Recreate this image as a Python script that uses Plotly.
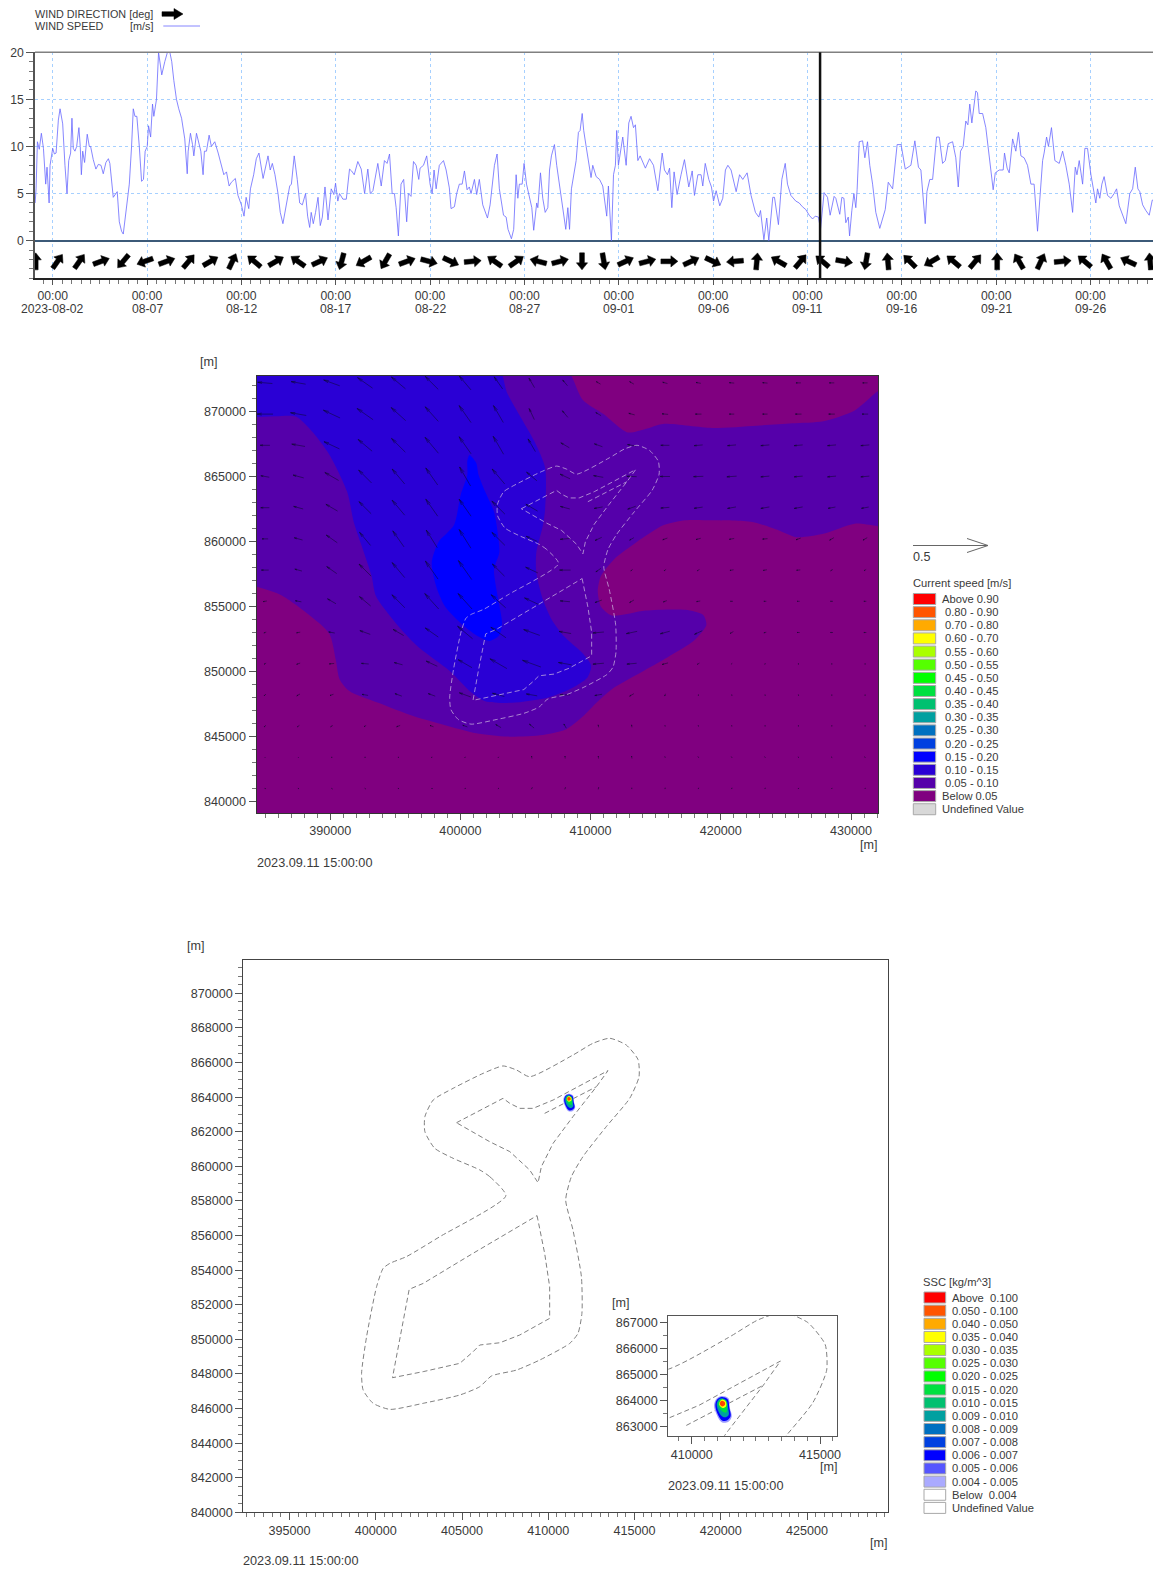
import math
import pandas as pd
import plotly.graph_objects as go

W, H = 1153, 1569
FONT = "Liberation Sans"
TXT = "#3a3a3a"

# ---------- wind series (days after 2023-08-02 00:00, m/s) ----------
wind_day = [
 -0.93,-0.88,-0.81,-0.71,-0.60,-0.49,-0.37,-0.30,-0.19,-0.14,0.0,0.09,0.18,0.30,0.39,0.53,0.65,0.76,0.85,0.95,
 1.02,1.09,1.18,1.27,1.39,1.46,1.52,1.59,1.69,1.83,1.94,2.01,2.15,2.29,2.42,2.56,2.68,2.82,2.95,3.03,
 3.21,3.42,3.53,3.65,3.74,3.88,4.06,4.18,4.27,4.36,4.46,4.59,4.71,4.81,4.90,5.01,5.08,5.19,5.29,5.36,
 5.50,5.61,5.68,5.78,5.94,6.08,6.21,6.31,6.42,6.56,6.68,6.83,7.00,7.13,7.18,7.30,7.41,7.48,7.62,7.74,
 7.85,7.97,8.04,8.15,8.29,8.41,8.59,8.77,8.94,9.07,9.21,9.35,9.47,9.68,9.82,10.0,10.14,10.25,10.39,10.48,
 10.65,10.79,10.93,11.15,11.41,11.53,11.64,11.78,11.94,12.06,12.20,12.38,12.56,12.65,12.80,12.96,13.09,13.23,13.40,13.51,
 13.62,13.70,13.81,13.93,14.06,14.18,14.29,14.43,14.59,14.76,14.90,14.99,15.11,15.20,15.38,15.56,15.73,15.84,15.98,16.17,
 16.35,16.53,16.70,16.83,16.97,17.23,17.41,17.58,17.72,17.85,17.99,18.11,18.20,18.32,
 18.46,18.60,18.76,18.85,18.99,19.12,19.26,19.40,19.47,19.65,19.82,20.0,20.11,20.21,20.32,20.49,20.71,20.85,21.02,21.11,
 21.29,21.41,21.55,21.70,21.82,21.96,22.08,22.17,22.35,22.47,22.61,22.79,23.04,23.18,23.41,23.55,23.67,23.89,24.03,24.13,
 24.31,24.43,24.56,24.65,24.73,24.88,24.98,25.11,25.27,25.39,25.49,25.65,25.71,25.85,25.97,26.10,26.24,26.33,26.43,26.59,
 26.71,26.86,27.03,27.19,27.30,27.39,27.49,27.60,27.74,27.86,27.95,28.06,28.14,28.27,28.45,28.53,28.62,28.71,28.80,28.98,
 29.15,29.36,29.45,29.61,29.72,29.82,29.89,29.98,30.11,30.21,30.39,30.53,30.65,30.78,30.88,31.01,31.13,31.27,31.41,31.63,
 31.84,32.07,32.30,32.42,32.58,32.69,32.81,32.93,33.09,33.30,33.48,33.71,33.89,34.01,34.19,34.36,34.45,34.58,34.77,34.91,
 35.02,35.16,35.35,35.51,35.65,35.78,35.95,36.22,36.40,36.57,36.80,37.01,37.24,37.42,37.51,37.69,37.84,37.95,38.16,38.25,
 38.46,38.64,38.82,
 38.94,39.12,39.38,39.56,39.73,39.91,40.09,40.27,40.41,40.58,40.69,40.88,41.06,41.20,41.41,41.50,41.71,41.82,41.93,42.03,
 42.16,42.23,42.35,42.46,42.56,42.63,42.74,42.92,43.04,43.18,43.30,43.45,43.62,43.83,44.12,44.28,44.51,44.75,44.96,45.18,
 45.48,45.69,45.88,46.01,46.24,46.33,46.48,46.63,46.84,46.98,47.16,47.30,47.46,47.69,47.86,47.99,48.11,48.25,48.39,48.50,
 48.60,48.71,48.92,49.01,49.10,49.28,49.45,49.63,49.74,49.84,49.95,50.16,50.37,50.44,50.58,50.69,50.87,51.04,51.18,51.31,
 51.48,51.66,51.84,52.01,52.19,52.28,52.46,52.54,52.67,52.77,52.93,53.11,53.34,53.52,53.69,53.87,54.05,54.19,54.28,54.40,
 54.58,54.70,54.84,55.02,55.19,55.28,55.37,55.49,55.60,55.72,55.90,56.08,56.25,56.38,56.52,56.87,57.08,57.23,57.37,57.51,
 57.61,57.76,57.93,58.11,58.27,58.31]
wind_speed = [
 4,5.5,10.5,9.7,11.4,9.8,6,7.8,4,8,9.8,9.2,9.3,12.8,14,12.4,8,5,8.5,9.3,
 13,9.8,9.5,10,12,10,7,9.5,8.3,11.3,10,10,8.6,7.6,8.1,8,7.1,8.3,8.7,8.2,
 4.6,5.2,2,1,0.7,3,6,10,14,13.2,13.2,10,6.3,6.5,9.5,10,12.2,11,14.5,13.2,
 15,20,19,17.6,19,20,20,19,17,15,14,13,10.8,7.1,9.5,11.4,10.2,9,11.4,10.5,
 9.5,7,9.5,9.5,11.2,10,10.5,9.3,8,7,7.3,5.8,6.2,6.6,4.8,3.8,2.6,4.6,3.4,5.5,
 7,8.7,9.3,6.6,9,7.5,8.2,7,5,3,1.8,4,5.8,6,9,6.5,4,3.8,5,2.6,
 1.4,3,1.8,3,4.6,1.6,2.5,5.7,2.2,5.5,4.9,6.1,4.2,5,4.4,4.4,7.6,7.4,7,8.4,
 7.6,5,7.6,5,5.3,8.2,5.8,8.5,8.2,9.2,5,5,3.5,0.5,
 6,6.5,2,5,4.7,8.4,8,6.5,7.7,8,9,6,5,7.5,5.5,8,8.5,7.5,5.6,3.4,
 3.6,5,6,6,7.4,5.4,5.7,5,6.5,4.9,6.5,3.8,2.4,3.8,8,9.2,5.5,2.7,2.5,1.2,
 0.2,1.2,7,4.5,6,6,8.2,6,4.5,3.5,1.1,4,3.5,7.2,4.5,3,3.5,7.5,9,10.2,
 8,6,3.5,1.2,3.5,1.2,5.5,6.8,8.5,11.5,11.7,13.5,11.7,10,7.3,6.7,8,7.5,6.8,6.5,
 5.8,2.6,5.8,0,7,8,11.7,8,10,11,8,12.5,13.2,12,12.3,8.5,9,8.3,7.7,8.7,
 8,5.3,9.3,7.5,7,7.7,3.5,7.3,4.9,7,8.6,5.7,7.4,4.8,7,7,5.8,8.2,6.5,5.7,
 4.2,5.3,3.7,4.5,7.5,8,7.5,5.2,7,6.5,7.2,4.8,3,2.5,3.2,0.1,2.4,0,4.6,4.6,
 1.7,6.5,8.2,
 6,4.8,4.2,4,3.6,3.3,2.7,2.3,2.6,2.5,1.2,5.1,4.6,2.7,4.7,4.5,2.8,4.6,4.5,1.9,
 2.5,0.5,3.2,5,3.5,5.4,10.5,10.6,8.8,10.5,8,6,3,1.3,3.3,6.2,5.5,10.2,10.2,7.6,
 8,10.6,7.8,7.5,1.8,5.2,6.5,6.5,11,11,8.2,8.5,10.3,10.5,8.8,5.7,9.5,10,12.7,12.3,
 14.5,12.5,15.9,15.7,13.5,13.5,12,9,7,5.4,7.2,7.5,7.5,9.3,7.7,7.2,10.8,9.5,11.5,9,
 8.8,8,6,6,1,3.2,8.5,9.3,11,10,12,8.5,8.2,9.5,8,6,3,7.8,7,8.5,
 6,9.8,9.8,7,4.8,4,5.5,4.5,6,6.8,4.8,4.5,5,5.5,3.7,1.8,5,5.5,7.8,5.5,
 5.2,3.8,3.2,2.7,4.3,4.3]

# compass bearing each wind arrow points to, left to right
wind_dir = [0,35,35,70,220,250,70,40,60,25,310,60,305,65,195,240,210,
            70,105,115,85,305,55,285,75,180,170,65,75,90,65,115,265,5,300,
            40,310,100,190,355,315,240,310,40,0,330,25,85,310,330,295,355]
wind_dates = ["2023-08-02","08-07","08-12","08-17","08-22","08-27","09-01","09-06","09-11","09-16","09-21","09-26"]

# ---------- current speed contours (km) ----------
band05_x = [383.0,407.6,409.42,410.96,412.84,414.21,415.57,419.33,422.75,425.49,427.88,430.28,431.99,433.5,433.5,430.28,427.88,425.83,424.46,422.41,419.33,417.28,415.57,413.52,411.81,410.79,410.55,410.79,411.64,414.21,417.28,418.65,418.89,417.97,415.92,413.86,411.81,410.45,409.42,408.05,406.34,403.61,401.21,399.16,396.43,393.69,391.47,390.72,390.44,389.93,388.56,386.17,383.0]
band05_y = [874.0,874.0,870.86,869.82,868.39,868.65,869.04,868.73,868.91,869.09,869.25,870.08,871.51,872.5,861.3,861.37,860.59,860.33,860.85,861.50,861.63,861.63,861.24,859.94,858.64,857.34,856.17,855.00,854.30,854.69,854.74,854.35,853.57,852.40,851.10,849.93,848.76,847.59,846.55,845.51,845.12,844.99,845.25,845.77,846.55,847.59,848.50,849.41,850.84,852.92,854.22,855.91,856.9]
band10_x = [383.0,402.6,403.61,404.63,405.66,406.51,406.51,406.34,405.83,405.83,406.34,407.03,407.88,409.42,410.04,409.76,408.39,406.68,403.95,401.90,400.87,399.16,396.77,395.06,393.52,393.18,392.50,391.81,391.30,389.93,388.56,387.37,385.83,383.0]
band10_y = [874.0,874.0,871.38,869.56,867.74,865.66,862.54,861.24,859.16,857.60,855.52,853.96,852.79,851.36,850.45,849.54,848.63,847.98,847.59,847.72,848.37,850.06,851.88,853.70,855.78,857.34,859.42,861.50,863.84,866.70,868.52,869.61,869.64,869.5]
band15_x = [400.70,401.21,401.39,401.90,402.58,402.86,402.99,402.58,402.86,403.20,402.99,402.24,401.21,400.19,398.82,398.14,397.80,398.31,399.50,400.02,400.53,400.53,400.70]
band15_y = [866.65,866.05,865.14,863.84,862.28,860.72,859.16,857.86,855.78,853.70,852.79,852.35,852.79,853.57,855.00,856.56,858.38,859.94,861.24,863.58,865.14,866.18,866.65]

# ---------- dashed outlines (km) ----------
outer_x = [407.54,406.61,406.03,404.49,403.42,402.85,402.85,403.33,404.49,406.22,407.38,408.15,408.92,411.43,412.59,413.56,414.52,415.20,415.26,414.72,413.36,412.01,411.34,411.01,411.43,411.92,411.95,411.72,411.24,409.50,408.15,406.71,406.03,404.87,402.75,400.82,399.85,399.27,399.18,399.47,400.05,400.43,400.82,401.78,403.71,407.54]
outer_y = [858.30,859.40,859.79,860.46,861.04,862.00,862.87,863.83,864.51,865.37,865.80,865.57,865.18,866.43,867.11,867.40,867.01,866.17,865.18,863.93,862.29,860.56,859.40,858.05,856.32,853.62,851.50,850.34,849.76,848.80,848.22,847.88,847.26,846.78,846.30,845.95,846.30,847.07,848.03,850.15,853.04,854.10,854.39,854.78,855.93,858.30]
inner_top_x = [404.68,407.38,407.77,408.35,409.12,410.28,413.46,412.79,411.43,410.28,409.60,409.41,408.92,407.77,406.61,404.68]
inner_top_y = [862.52,863.93,863.64,863.35,863.35,863.83,865.53,864.60,862.87,861.33,859.98,859.05,859.79,860.85,861.42,862.52]
inner_tail_x = [409.79,412.79]
inner_tail_y = [863.06,864.60]
inner_low_x = [409.35,409.79,410.08,410.08,408.35,407.19,406.03,405.64,404.87,402.75,400.97,401.40,401.94,402.75,405.64,409.35]
inner_low_y = [857.15,854.97,853.04,851.21,850.25,849.80,849.67,849.28,848.61,848.13,847.78,850.15,852.89,853.23,854.97,857.15]

# ---------- current vectors: rows top to bottom, columns left to right ----------
current_speed = [
 [.12,.12,.14,.15,.15,.15,.15,.12,.09,.06,.04,.04,.04,.04,.04,.04,.04,.04,.04],
 [.13,.13,.15,.16,.16,.16,.17,.16,.10,.07,.05,.05,.05,.05,.04,.04,.05,.05,.05],
 [.08,.11,.14,.15,.16,.17,.17,.17,.12,.08,.07,.07,.07,.07,.07,.07,.07,.07,.07],
 [.07,.09,.13,.15,.16,.17,.18,.16,.11,.09,.08,.08,.08,.08,.08,.07,.07,.07,.07],
 [.07,.08,.11,.14,.16,.17,.17,.15,.11,.08,.07,.07,.07,.07,.07,.07,.07,.06,.06],
 [.05,.07,.11,.14,.16,.17,.18,.15,.10,.08,.06,.04,.04,.04,.04,.04,.04,.04,.04],
 [.06,.06,.10,.14,.16,.18,.19,.14,.11,.09,.05,.02,.02,.02,.03,.03,.03,.02,.02],
 [.03,.05,.08,.12,.15,.17,.17,.16,.13,.08,.06,.04,.03,.03,.02,.02,.02,.02,.02],
 [.02,.03,.05,.09,.10,.13,.16,.15,.14,.10,.09,.09,.08,.07,.03,.02,.02,.02,.02],
 [.02,.03,.04,.06,.07,.10,.13,.16,.16,.11,.09,.08,.05,.02,.01,.01,.01,.01,.01],
 [.02,.03,.03,.05,.06,.06,.10,.10,.09,.08,.06,.04,.02,.01,.01,.01,.01,.01,.01],
 [.02,.02,.02,.02,.03,.03,.04,.05,.05,.04,.02,.02,.01,.01,.01,.01,.01,.01,.01],
 [.005,.005,.01,.01,.01,.01,.01,.01,.02,.02,.02,.02,.01,.01,.01,.01,.01,.01,.01],
 [.01,.01,.01,.01,.01,.01,.01,.01,.015,.015,.015,.01,.01,.01,.01,.01,.01,.01,.01]]
current_dir = [
 [275,280,290,305,310,315,320,325,330,320,300,300,285,280,275,275,270,270,270],
 [270,280,295,305,312,318,325,330,335,320,300,285,275,270,270,270,270,270,270],
 [270,280,295,310,315,320,325,330,330,300,290,280,270,265,265,265,265,265,265],
 [280,285,300,315,320,325,330,320,310,295,280,272,270,268,266,265,265,265,265],
 [270,285,300,315,320,325,325,315,300,285,260,250,265,262,260,260,260,260,260],
 [270,285,305,320,325,328,328,315,295,265,245,240,250,255,260,265,250,240,240],
 [270,285,305,315,320,325,325,315,295,270,235,230,235,240,260,260,265,240,240],
 [260,280,300,310,315,318,318,312,295,275,250,240,250,260,270,270,270,270,270],
 [250,260,280,290,300,305,310,305,290,280,265,258,255,245,240,255,270,270,270],
 [240,250,265,275,285,295,300,300,290,280,265,265,255,240,230,200,180,180,180],
 [230,240,250,280,290,290,290,285,280,270,260,240,200,180,170,170,170,180,180],
 [230,235,240,240,250,290,290,300,310,330,350,350,350,350,350,0,0,0,0],
 [180,180,180,180,180,200,210,220,350,355,355,350,340,330,320,320,310,300,300],
 [100,110,120,120,100,90,80,60,30,20,10,0,10,20,20,20,30,40,40]]

# ---------- SSC plume (km) ----------
plume_x = [[411.17,411.43,411.49,411.56,411.43,411.17,410.98,410.87,410.98],
           [411.17,411.40,411.47,411.52,411.40,411.20,411.01,410.92,411.00],
           [411.17,411.36,411.42,411.44,411.30,411.13,411.00,410.98,411.04],
           [411.18,411.34,411.38,411.34,411.20,411.08,411.03,411.08],
           [411.20,411.33,411.34,411.20,411.08,411.10],
           [411.18,411.29,411.29,411.18,411.10,411.12]]
plume_y = [[864.19,864.10,863.72,863.40,863.20,863.18,863.46,863.84,864.10],
           [864.15,864.06,863.72,863.42,863.27,863.24,863.50,863.84,864.06],
           [864.10,864.01,863.72,863.46,863.37,863.46,863.72,863.91,864.04],
           [864.07,863.99,863.72,863.55,863.59,863.75,863.88,864.01],
           [864.05,863.97,863.80,863.73,863.84,863.98],
           [864.01,863.95,863.84,863.79,863.87,863.97]]
plume_colors = ["#9c9cff","#0000ff","#00a0a0","#00e040","#ffff00","#ff4400"]

# ---------- legends ----------
speed_labels = ["Above 0.90"," 0.80 - 0.90"," 0.70 - 0.80"," 0.60 - 0.70"," 0.55 - 0.60"," 0.50 - 0.55"," 0.45 - 0.50"," 0.40 - 0.45"," 0.35 - 0.40"," 0.30 - 0.35"," 0.25 - 0.30"," 0.20 - 0.25"," 0.15 - 0.20"," 0.10 - 0.15"," 0.05 - 0.10","Below 0.05","Undefined Value"]
speed_colors = ["#ff0000","#ff5500","#ffaa00","#ffff00","#aaff00","#55ff00","#00ff00","#00e040","#00c070","#00a0a0","#0070c0","#0040e0","#0000ff","#2a00d5","#5500aa","#800080","#d8d8d8"]
ssc_labels = ["Above  0.100","0.050 - 0.100","0.040 - 0.050","0.035 - 0.040","0.030 - 0.035","0.025 - 0.030","0.020 - 0.025","0.015 - 0.020","0.010 - 0.015","0.009 - 0.010","0.008 - 0.009","0.007 - 0.008","0.006 - 0.007","0.005 - 0.006","0.004 - 0.005","Below  0.004","Undefined Value"]
ssc_colors = ["#ff0000","#ff5500","#ffaa00","#ffff00","#aaff00","#55ff00","#00ff00","#00e040","#00c070","#00a0a0","#0070c0","#0040e0","#0000ff","#5555ff","#aaaaff","#ffffff","#ffffff"]

# ---------- helpers ----------
def px(x): return x / W
def py(y): return 1 - y / H
def km(a): return [v * 1000 for v in a]

shapes, annots = [], []

def label(x, y, text, size=11.2, anchor="left", yanchor="middle"):
    annots.append(dict(xref="paper", yref="paper", x=px(x), y=py(y), text=text, showarrow=False,
                       xanchor=anchor, yanchor=yanchor, font=dict(size=size, color=TXT), align="left",
                       borderpad=0, borderwidth=0))

def pline(x0, y0, x1, y1, color, width=1):
    shapes.append(dict(type="line", xref="paper", yref="paper", x0=px(x0), y0=py(y0), x1=px(x1), y1=py(y1),
                       line=dict(color=color, width=width)))

def axis(dom, rng, vals, text, minor, tick0, anchor, frame="#555555", lw=1, mirror=True, **kw):
    return dict(domain=dom, range=rng, tickmode="array", tickvals=vals, ticktext=text, anchor=anchor,
                ticks="outside", ticklen=7, tickwidth=1, tickcolor="#555555", automargin=False,
                showgrid=False, zeroline=False, showline=True, linecolor=frame, linewidth=lw, mirror=mirror,
                tickfont=dict(size=12.6, color=TXT),
                minor=dict(ticks="outside", ticklen=4, tickwidth=1, tickcolor="#777777", tickmode="linear",
                           tick0=tick0, dtick=minor, showgrid=False), **kw)

def legend(x_sw0, x_sw1, x_text, x_text_sp, y0, step, labels, colors):
    for i, (t, c) in enumerate(zip(labels, colors)):
        y = y0 + i * step
        shapes.append(dict(type="rect", xref="paper", yref="paper", x0=px(x_sw0), x1=px(x_sw1),
                           y0=py(y - 5.5), y1=py(y + 5.5), fillcolor=c, line=dict(color="#a8a8a8", width=1)))
        if t.startswith(" "):
            label(x_text_sp, y, t.strip())
        else:
            label(x_text, y, t)

fig = go.Figure()

# ---------- panel 1 ----------
t0 = pd.Timestamp("2023-08-02")
wind_t = [t0 + pd.Timedelta(days=d) for d in wind_day]
fig.add_trace(go.Scatter(x=wind_t, y=wind_speed, mode="lines", line=dict(color="#6868ff", width=0.8),
                         xaxis="x", yaxis="y", showlegend=False, hoverinfo="skip"))

# block arrows, drawn through the axes
PX_DAY, PX_VAL = 18.87, 9.42
ARROW = [(-8.5, -2.4), (1.5, -2.4), (1.5, -5.6), (8.5, 0), (1.5, 5.6), (1.5, 2.4), (-8.5, 2.4)]
ax_pts, ay_pts = [], []
for i, b in enumerate(wind_dir):
    cd = -0.9 + i * 1.158
    s, c = math.sin(math.radians(b)), math.cos(math.radians(b))
    for (along, side) in ARROW + ARROW[:1]:
        ex, ey = along * s + side * c, along * c - side * s
        ax_pts.append(t0 + pd.Timedelta(days=cd + ex / PX_DAY))
        ay_pts.append(-2.2 + ey / PX_VAL)
    ax_pts.append(None)
    ay_pts.append(None)
fig.add_trace(go.Scatter(x=ax_pts, y=ay_pts, mode="lines", fill="toself", fillcolor="#000000",
                         line=dict(color="#000000", width=0.5), xaxis="x", yaxis="y", showlegend=False, hoverinfo="skip"))

xticks = [t0 + pd.Timedelta(days=5 * i) for i in range(12)]
xa1 = axis([px(35), 1.0], [pd.Timestamp("2023-08-01 01:30"), pd.Timestamp("2023-09-29 07:26")], xticks, ["00:00"] * 12,
           43200000, "2023-08-02", "y", frame="#222222", lw=1.5, mirror=False)
xa1.update(showgrid=True, gridcolor="#a6d0ff", griddash="dot", gridwidth=1, ticklen=5)
xa1["tickfont"] = dict(size=12.2, color=TXT)
ya1 = axis([py(278.3), py(52.3)], [-4, 20], [0, 5, 10, 15, 20], ["0", "5", "10", "15", "20"], 1, 0, "x",
           frame="#555555", lw=1.5, mirror=False)
ya1.update(showgrid=True, gridcolor="#a6d0ff", griddash="dot", gridwidth=1,
           zeroline=True, zerolinecolor="#3c5a78", zerolinewidth=1.5)
ya1["tickfont"] = dict(size=12.2, color=TXT)
pline(35, 52.3, 1153, 52.3, "#808080", 1.5)
for tk, d in zip(xticks, wind_dates):
    annots.append(dict(xref="x", yref="paper", x=tk, y=py(309), text=d, showarrow=False, xanchor="center",
                       yanchor="middle", font=dict(size=12.2, color=TXT), borderpad=0))

shapes.append(dict(type="line", xref="x", yref="paper", x0=pd.Timestamp("2023-09-11 16:00"),
                   x1=pd.Timestamp("2023-09-11 16:00"), y0=py(278.3), y1=py(52.3),
                   line=dict(color="#111111", width=2.5)))

label(35, 14.3, "WIND DIRECTION [deg]", 10.8)
label(35, 26, "WIND SPEED", 10.8)
label(129.5, 26, "[m/s]", 10.8)
lg = [(162, 11.7), (174, 11.7), (174, 8.5), (183, 14), (174, 19.5), (174, 16.3), (162, 16.3)]
shapes.append(dict(type="path", xref="paper", yref="paper", fillcolor="#000000", line=dict(color="#000000", width=0.5),
                   path="M" + " L".join(f"{px(a):.5f},{py(b):.5f}" for a, b in lg) + " Z"))
pline(163.3, 26, 200, 26, "#6868ff", 0.8)

# ---------- panel 2 ----------
xr2 = [384350, 432070]
yr2 = [839115, 872730]
fig.add_trace(go.Scatter(x=[xr2[0], xr2[1], xr2[1], xr2[0]], y=[yr2[0], yr2[0], yr2[1], yr2[1]], fill="toself",
                         mode="none", fillcolor="#800080", xaxis="x2", yaxis="y2", showlegend=False, hoverinfo="skip"))
for bx, by, col in [(band05_x, band05_y, "#5500aa"), (band10_x, band10_y, "#2a00d5"), (band15_x, band15_y, "#0000ff")]:
    fig.add_trace(go.Scatter(x=km(bx), y=km(by), fill="toself", mode="lines",
                             line=dict(width=0, shape="spline", smoothing=0.7),
                             fillcolor=col, xaxis="x2", yaxis="y2", showlegend=False, hoverinfo="skip"))

qx, qy = [], []
scale = 9400.0          # metres drawn per m/s
for r, (sp_row, dir_row) in enumerate(zip(current_speed, current_dir)):
    cy = 872200 - 2400 * r
    for k, (sp, d) in enumerate(zip(sp_row, dir_row)):
        cx = 385000 + 2560 * k
        ln = sp * scale
        a = math.radians(d)
        ux, uy = math.sin(a), math.cos(a)
        tx, ty = cx + ux * ln / 2, cy + uy * ln / 2
        qx += [cx - ux * ln / 2, tx, None]
        qy += [cy - uy * ln / 2, ty, None]
        h = ln * 0.3
        for sgn in (-1, 1):
            b = a + math.pi + sgn * math.radians(13)
            qx += [tx, tx + math.sin(b) * h, None]
            qy += [ty, ty + math.cos(b) * h, None]
fig.add_trace(go.Scatter(x=qx, y=qy, mode="lines", line=dict(color="rgba(10,10,40,0.85)", width=0.6), xaxis="x2", yaxis="y2",
                         showlegend=False, hoverinfo="skip"))

OUTLINES = [(outer_x, outer_y, "spline"), (inner_top_x, inner_top_y, "linear"),
            (inner_tail_x, inner_tail_y, "linear"), (inner_low_x, inner_low_y, "linear")]
for ox, oy, sh in OUTLINES:
    ln_ = dict(color="rgba(205,185,225,0.72)", width=1, dash="5px,3px", shape=sh)
    if sh == "spline":
        ln_["smoothing"] = 0.6
    fig.add_trace(go.Scatter(x=km(ox), y=km(oy), mode="lines", line=ln_,
                             xaxis="x2", yaxis="y2", showlegend=False, hoverinfo="skip"))

xa2 = axis([px(256.6), px(878)], xr2, [390000, 400000, 410000, 420000, 430000],
           ["390000", "400000", "410000", "420000", "430000"], 1000, 390000, "y2", frame="#333333")
xa2["ticklen"] = 6
ya2 = axis([py(813), py(376)], yr2, [840000, 845000, 850000, 855000, 860000, 865000, 870000],
           ["840000", "845000", "850000", "855000", "860000", "865000", "870000"], 1000, 840000, "x2", frame="#333333")
label(209, 362, "[m]", 12.6, "center")
label(869, 845, "[m]", 12.6, "center")
label(256.5, 863, "2023.09.11 15:00:00", 12.7)

# vector scale and legend
pline(913, 545.5, 988, 545.5, "#666666", 1)
pline(967, 538.5, 988, 545.5, "#666666", 1)
pline(967, 552.5, 988, 545.5, "#666666", 1)
label(913, 557, "0.5", 12.6)
label(913, 583, "Current speed [m/s]", 11.2)
legend(913.3, 935.7, 941.5, 945.2, 599, 13.14, speed_labels, speed_colors)

# ---------- panel 3 and inset ----------
for xa_, ya_ in [("x3", "y3"), ("x4", "y4")]:
    for ox, oy, sh in OUTLINES:
        ln_ = dict(color="#808080", width=1, dash="5px,3px", shape=sh)
        if sh == "spline":
            ln_["smoothing"] = 0.6
        fig.add_trace(go.Scatter(x=km(ox), y=km(oy), mode="lines", line=ln_,
                                 xaxis=xa_, yaxis=ya_, showlegend=False, hoverinfo="skip"))
    for bx, by, col in zip(plume_x, plume_y, plume_colors):
        fig.add_trace(go.Scatter(x=km(bx + bx[:1]), y=km(by + by[:1]), fill="toself", mode="lines",
                                 line=dict(width=0, shape="spline"), fillcolor=col, xaxis=xa_, yaxis=ya_,
                                 showlegend=False, hoverinfo="skip"))

xa3 = axis([px(243.3), px(887.5)], [392325, 429660], [395000, 400000, 405000, 410000, 415000, 420000, 425000],
           ["395000", "400000", "405000", "410000", "415000", "420000", "425000"], 500, 395000, "y3", frame="#444444")
ya3 = axis([py(1512.3), py(960)], [840000, 871925], list(range(840000, 870001, 2000)),
           [str(v) for v in range(840000, 870001, 2000)], 500, 840000, "x3", frame="#444444")
xa4 = axis([px(668.3), px(837.3)], [409088, 415674], [410000, 415000], ["410000", "415000"], 500, 410000, "y4", frame="#555555", lw=1.2)
ya4 = axis([py(1435.7), py(1316)], [862666, 867257], [863000, 864000, 865000, 866000, 867000],
           ["863000", "864000", "865000", "866000", "867000"], 500, 863000, "x4", frame="#555555", lw=1.2)

label(196, 946, "[m]", 12.6, "center")
label(879, 1543, "[m]", 12.6, "center")
label(243, 1561, "2023.09.11 15:00:00", 12.7)
label(621, 1302.5, "[m]", 12.6, "center")
label(829, 1467, "[m]", 12.6, "center")
label(668.3, 1485.5, "2023.09.11 15:00:00", 12.7)
label(923, 1282, "SSC [kg/m^3]", 11.2)
legend(924, 945.7, 951.7, 951.7, 1297.5, 13.15, ssc_labels, ssc_colors)

fig.update_layout(width=W, height=H, margin=dict(l=0, r=0, t=0, b=0, pad=0, autoexpand=False), autosize=False,
                  paper_bgcolor="white", plot_bgcolor="white", showlegend=False,
                  font=dict(family=FONT, size=12, color=TXT),
                  xaxis=xa1, yaxis=ya1, xaxis2=xa2, yaxis2=ya2, xaxis3=xa3, yaxis3=ya3, xaxis4=xa4, yaxis4=ya4,
                  shapes=shapes, annotations=annots)

fig.write_html("out.html", config={"displayModeBar": False},
               post_script="document.body.style.margin='0';document.body.style.overflow='hidden';")
